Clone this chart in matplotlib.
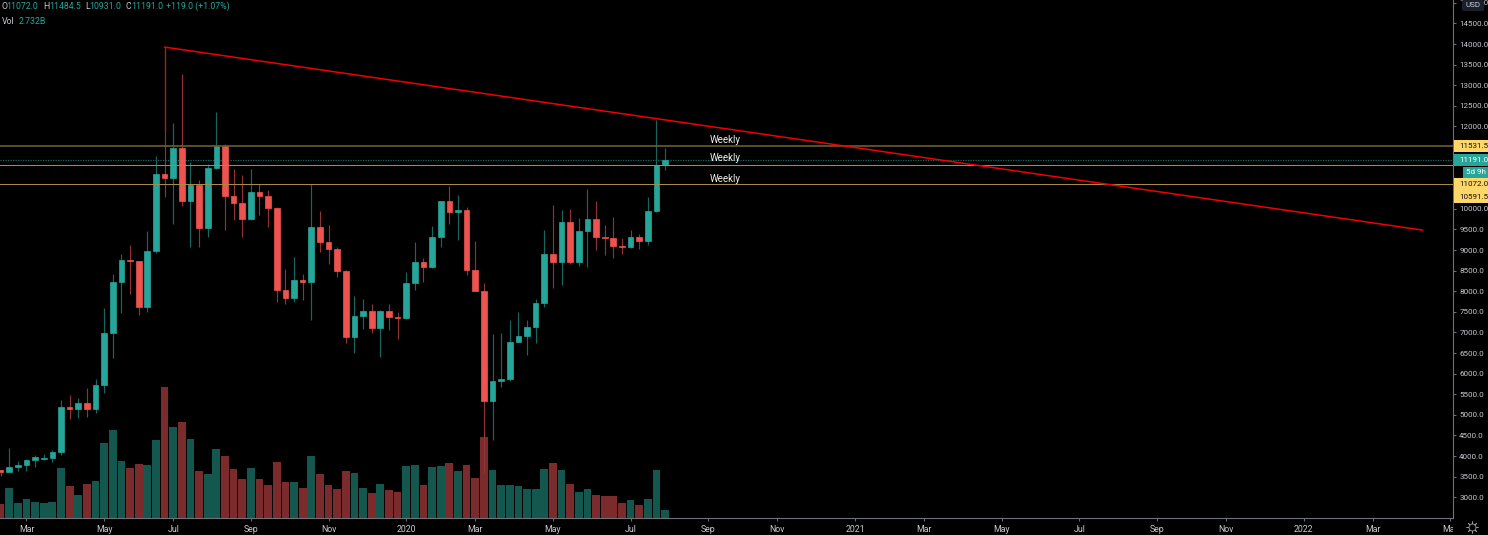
import matplotlib
matplotlib.use("Agg")
import matplotlib.pyplot as plt
from matplotlib.lines import Line2D
from matplotlib.patches import Rectangle, FancyBboxPatch
from matplotlib.transforms import Bbox, TransformedBbox, IdentityTransform
import numpy as np

plt.rcParams['font.family'] = ['Roboto', 'DejaVu Sans']

opens = [3656,3614,3728,3794,3898,3940,3954,4093,5192,5144,5290,5137,5712,6982,8213,8754,8730,7613,8980,10842,
         10745,11474,10180,10583,9524,10981,11522,10308,10131,9757,10405,10308,10024,8033,7839,8269,8227,9563,9199,9021,
         8487,6892,7402,7516,7103,7516,7378,7346,8196,8706,8592,9320,10180,9927,9968,8519,8009,5331,5816,5865,
         6771,6902,7120,7710,8900,8713,9677,8698,9451,9750,9313,9281,9102,9070,9305,9216,9937,11072]
closes = [3607,3728,3794,3898,3971,3954,4093,5192,5144,5290,5137,5712,6982,8213,8754,8730,7613,8980,10842,10745,
          11474,10180,10583,9524,10981,11522,10308,10131,9757,10405,10308,10024,8033,7839,8269,8227,9563,9199,9021,8487,
          6892,7402,7516,7103,7516,7378,7346,8196,8706,8592,9320,10180,9927,9968,8519,8009,5331,5816,5865,6771,
          6902,7120,7710,8900,8713,9677,8698,9451,9750,9313,9281,9102,9070,9305,9216,9937,11072,11191]
highs = [3656,4190,3891,3940,4037,4061,4141,5355,5477,5397,5647,5858,7582,8407,8893,9119,8737,9458,11287,13926,
         12081,13270,11127,10697,11085,12340,11564,10964,10811,10964,10592,10454,10041,8536,8827,8422,10592,9944,9604,9077,
         8504,7873,7807,7686,7533,7686,7499,8463,9191,8796,9580,10194,10551,10333,10034,9223,8196,6958,6982,7305,
         7484,7305,7800,9483,10082,9961,9985,9774,10470,10180,9604,9791,9289,9483,9386,10276,12161,11484.5]
lows = [3517,3607,3639,3648,3736,3898,3843,4020,4901,4925,4942,5047,5532,6382,7460,7936,7426,7499,8932,10291,
        9636,10065,9070,9077,9320,10971,9475,9733,9313,9726,9847,9556,7735,7686,7742,7790,7298,8941,8665,8349,
        6732,6504,7072,6989,6399,7055,6844,7329,8026,8213,8553,9070,9636,9247,8390,7994,3590,4377,5671,5833,
        6756,6455,6746,7620,8082,8147,8665,8601,8584,8997,8876,8803,8893,9053,9021,9119,9920,10931]
volumes = [5.0,11.2,5.3,6.8,5.7,5.3,5.9,18.6,11.7,8.3,12.7,13.6,27.8,32.7,21.1,18.6,19.9,19.6,29.1,48.9,
           33.8,35.6,29.5,17.3,16.3,25.5,23.1,18.1,14.3,18.6,14.3,12.3,20.8,13.1,13.1,11.0,23.1,16.1,12.1,10.6,
           17.3,16.8,11.2,9.1,12.7,10.4,9.5,19.1,19.8,12.3,18.8,19.1,20.3,17.3,19.6,14.8,30.0,17.6,12.3,12.1,
           11.6,10.6,10.8,18.3,20.3,17.8,12.6,9.6,10.6,8.6,7.9,7.9,5.6,6.4,4.6,6.8,17.6,2.732]

month_positions = [3,12,20,29,38,47,55,64,73,82,90,99,107,116,125,134,142,151,159,168]
month_labels = ["Mar","May","Jul","Sep","Nov","2020","Mar","May","Jul","Sep","Nov","2021","Mar","May","Jul","Sep","Nov","2022","Mar","May"]
price_ticks = [3000,3500,4000,4500,5000,5500,6000,6500,7000,7500,8000,8500,9000,9500,10000,12000,12500,13000,13500,14000,14500,15000]

weekly_levels = [11531.5, 11072.0, 10591.5]
weekly_label_prices = [11665, 11225, 10735]
current_price = 11191.0
trend_x = [19, 164.8]
trend_y = [13926, 9483]

W, H = 1488, 535
BG = "#000000"
UP, DOWN = "#26a69a", "#ef5350"
UP_W, DOWN_W = "#17665f", "#8f3333"
UP_V, DOWN_V = "#14574f", "#7b2b2b"
GREY = "#c8cad0"
AX = "#6f7178"
TICK_SIZE = 5.8

fig = plt.figure(figsize=(W/100, H/100), dpi=100, facecolor=BG)
rect = [0, (H-517.5)/H, 1453/W, 517.5/H]
ax_v = fig.add_axes(rect, facecolor=BG, zorder=1)
ax = fig.add_axes(rect, facecolor="none", zorder=2)

x = np.arange(len(opens))
o, c, h, l, v = map(np.array, (opens, closes, highs, lows, volumes))
up = c >= o

ax_v.bar(x, v, width=0.9, color=[UP_V if u else DOWN_V for u in up], linewidth=0)
ax_v.set_xlim(-0.07, 168.3)
ax_v.set_ylim(0, 193.5)
ax_v.axis("off")

ax.vlines(x, l, h, colors=[UP_W if u else DOWN_W for u in up], linewidth=0.85, zorder=3)
ax.bar(x, np.abs(c-o), bottom=np.minimum(o, c), width=0.66,
       color=[UP if u else DOWN for u in up], edgecolor=[UP if u else DOWN for u in up],
       linewidth=0.5, zorder=4)

ax.axhline(weekly_levels[0], color="#6e5c30", lw=1.2, zorder=5)
ax.axhline(weekly_levels[1], color="#a68a45", lw=0.75, zorder=5)
ax.axhline(weekly_levels[2], color="#a68a45", lw=0.75, zorder=5)
ax.axhline(current_price, color="#1b6a62", lw=0.9, ls=(0, (1, 1)), zorder=2)
ax.plot(trend_x, trend_y, color="#f00000", lw=1.1, zorder=6, solid_capstyle="round")
ax.vlines(trend_x[0], 11900, trend_y[0], colors="#a51f2a", lw=0.9, zorder=5)

for p in weekly_label_prices:
    ax.text(84, p, "Weekly", color="#f0f0f0", fontsize=7, ha="center", va="center", zorder=7)

ax.set_xlim(-0.07, 168.3)
ax.set_ylim(2508, 15069)
ax.yaxis.tick_right()
ax.set_yticks(price_ticks)
ax.set_yticklabels([f"{t:.1f}" for t in price_ticks])
ax.set_xticks(month_positions)
ax.set_xticklabels(month_labels)
ax.tick_params(axis="y", colors=GREY, labelsize=TICK_SIZE, length=2.5, width=0.7, pad=2, color=AX)
ax.tick_params(axis="x", colors=GREY, labelsize=6.3, length=2.2, width=0.7, pad=3.5, color=AX)
for s in ("top", "left"):
    ax.spines[s].set_visible(False)
for s in ("right", "bottom"):
    ax.spines[s].set_color(AX)
    ax.spines[s].set_linewidth(0.8)

clip = TransformedBbox(Bbox([[0, 0], [1453, H]]), IdentityTransform())
last = ax.get_xticklabels()[-1]
last.set_clip_on(True)
last.set_clip_box(clip)

def T(px, py, s, color=GREY, size=6.3, ha="left", **kw):
    return fig.text(px/W, 1-py/H, s, color=color, fontsize=size, ha=ha, va="center", zorder=20, **kw)

def box(x0, y0, x1, y1, color, round_=False):
    if round_:
        p = FancyBboxPatch((x0/W, 1-y1/H), (x1-x0)/W, (y1-y0)/H, transform=fig.transFigure,
                           boxstyle="round,pad=0,rounding_size=0.002", facecolor=color, edgecolor="none", zorder=15)
    else:
        p = Rectangle((x0/W, 1-y1/H), (x1-x0)/W, (y1-y0)/H, transform=fig.transFigure,
                      facecolor=color, edgecolor="none", zorder=15)
    fig.add_artist(p)

YEL = "#fdd868"
box(1453.5, 140, W, 152, YEL); T(1459, 146, "11531.5", "#111111", TICK_SIZE)
box(1453.5, 154, W, 166, UP);  T(1459, 160, "11191.0", "#ffffff", TICK_SIZE)
box(1463, 167, W, 178, UP);    T(1466, 172.5, "5d 9h", "#ffffff", TICK_SIZE)
box(1453.5, 178.5, W, 190.5, YEL); T(1459, 184.5, "11072.0", "#111111", TICK_SIZE)
box(1453.5, 191, W, 203, YEL); T(1459, 197, "10591.5", "#111111", TICK_SIZE)
box(1462, 0, 1484, 11, "#1b202c", True); T(1473, 5, "USD", GREY, TICK_SIZE, ha="center")

TEAL = "#26a69a"
for px, s, col in [(2, "O", GREY), (6.5, "11072.0", TEAL), (43.5, "H", GREY), (49, "11484.5", TEAL),
                   (85.3, "L", GREY), (89.5, "10931.0", TEAL), (126, "C", GREY), (131, "11191.0", TEAL),
                   (166.5, "+119.0 (+1.07%)", TEAL)]:
    T(px, 6.5, s, col)
T(2, 21.5, "Vol", GREY)
T(19, 21.5, "2.732B", TEAL)

fig.add_artist(Line2D([1472/W], [1-527/H], marker=(8, 2, 0), markersize=8.5, mec="#9a9ca3",
                      mew=0.6, ls="none", transform=fig.transFigure, zorder=20))
fig.add_artist(Line2D([1472/W], [1-527/H], marker="o", markersize=5, mfc=BG, mec="#9a9ca3",
                      mew=0.6, ls="none", transform=fig.transFigure, zorder=21))

fig.savefig("out.png", dpi=100, facecolor=BG)
